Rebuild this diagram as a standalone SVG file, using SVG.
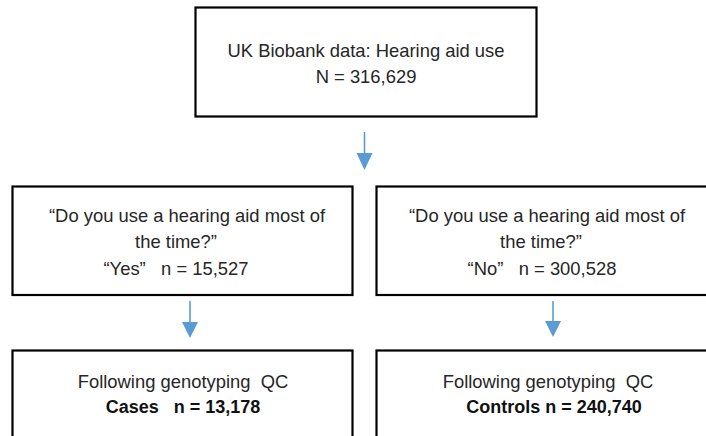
<svg xmlns="http://www.w3.org/2000/svg" width="706" height="436" viewBox="0 0 706 436">
<defs>
<style>
.box{fill:#fff;stroke:#000;stroke-width:2.2}
.t{font-family:"Liberation Sans",Arial,sans-serif;font-size:18.4px;fill:#262626;text-anchor:middle}
.b{font-weight:bold;fill:#111;font-size:18px}
.ln{stroke:#5B9BD5;stroke-width:1.6;fill:none}
.hd{fill:#5B9BD5}
</style>
</defs>
<rect width="706" height="436" fill="#fff"/>
<g id="connectors">
<line class="ln" x1="364.5" y1="132" x2="364.5" y2="154"/>
<polygon class="hd" points="356.5,153 372.5,153 364.5,170"/>
<line class="ln" x1="190" y1="301" x2="190" y2="323"/>
<polygon class="hd" points="182,322 198,322 190,338"/>
<line class="ln" x1="553" y1="301" x2="553" y2="322"/>
<polygon class="hd" points="545,321 561,321 553,337"/>
</g>
<g id="node-top">
<rect class="box" x="195.5" y="7.5" width="341" height="109"/>
<text class="t" x="366" y="57">UK Biobank data: Hearing aid use</text>
<text class="t" x="366" y="83">N = 316,629</text>
</g>
<g id="node-yes">
<rect class="box" x="12.5" y="186.5" width="340" height="108.5"/>
<text class="t" x="187" y="222">“Do you use a hearing aid most of</text>
<text class="t" x="176" y="248">the time?”</text>
<text class="t" x="176" y="275" xml:space="preserve">“Yes”   n = 15,527</text>
</g>
<g id="node-no">
<rect class="box" x="376.5" y="186.5" width="340" height="108.5"/>
<text class="t" x="547" y="222">“Do you use a hearing aid most of</text>
<text class="t" x="541" y="248">the time?”</text>
<text class="t" x="542" y="275" xml:space="preserve">“No”   n = 300,528</text>
</g>
<g id="node-cases">
<rect class="box" x="12.5" y="350.5" width="340" height="100"/>
<text class="t" x="183" y="388" xml:space="preserve">Following genotyping  QC</text>
<text class="t b" x="183" y="413" xml:space="preserve">Cases   n = 13,178</text>
</g>
<g id="node-controls">
<rect class="box" x="376.5" y="350.5" width="340" height="100"/>
<text class="t" x="548" y="388" xml:space="preserve">Following genotyping  QC</text>
<text class="t b" x="554" y="413">Controls n = 240,740</text>
</g>
</svg>
